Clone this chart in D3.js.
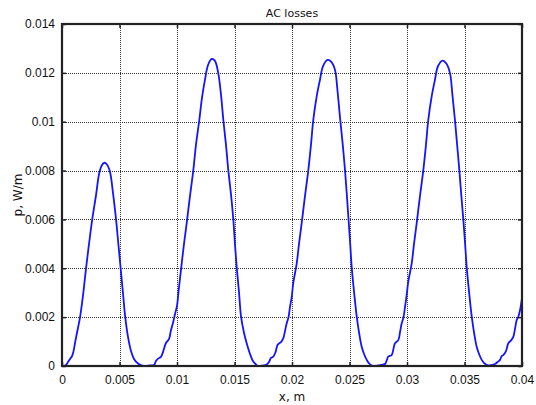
<!DOCTYPE html>
<meta charset="utf-8">
<script src="https://d3js.org/d3.v7.min.js"></script>
<style>
  body { margin: 0; background: #fff; font-family: 'DejaVu Sans', sans-serif; }
  .grid line { stroke: #333; stroke-dasharray: 1,1; shape-rendering: crispEdges; }
  .tick text { font-size: 12px; fill: #111; }
</style>
<body>
<svg width="536" height="405"></svg>
</body>
<script>

// x positions (m) and losses (W/m)
var xVals = [
  0, 0.00017, 0.00035, 0.00052, 0.0007, 0.00087, 0.001, 0.00113, 0.0013, 0.00157,
  0.00183, 0.00209, 0.00235, 0.00263, 0.00296, 0.00324, 0.00348, 0.00368, 0.00391, 0.00417,
  0.00443, 0.0047, 0.00491, 0.0051, 0.0053, 0.0055, 0.00574, 0.006, 0.00626, 0.00661,
  0.00696, 0.00722,
  0.00765, 0.008, 0.00817, 0.00835, 0.0086, 0.00878, 0.00904, 0.0093, 0.00948, 0.00965,
  0.00983, 0.01, 0.01013, 0.01041, 0.01061, 0.01084, 0.01113, 0.01142, 0.01165, 0.01194,
  0.01217, 0.01243, 0.0127, 0.01302, 0.0133, 0.01359, 0.01383, 0.01403, 0.01426, 0.01446,
  0.0147, 0.0149, 0.01504, 0.01519, 0.01539, 0.01557, 0.01583, 0.01606, 0.01635, 0.01663,
  0.01687, 0.01707,
  0.01748, 0.0178, 0.018, 0.01817, 0.01837, 0.01857, 0.01874, 0.0189, 0.01908, 0.01924,
  0.0194, 0.01954, 0.0197, 0.01983, 0.01997, 0.02011, 0.02041, 0.02061, 0.02084, 0.02113,
  0.02142, 0.02165, 0.02185, 0.02215, 0.02243, 0.0227, 0.0231, 0.02342, 0.02374, 0.02396,
  0.02417, 0.0244, 0.02461, 0.02476, 0.0249, 0.02505, 0.02519, 0.02541, 0.02563, 0.02585,
  0.02606, 0.0263, 0.0265, 0.02672, 0.02705,
  0.02722, 0.02765, 0.02809, 0.02825, 0.02837, 0.02867, 0.02882, 0.02896, 0.02924, 0.0294,
  0.02954, 0.0297, 0.02983, 0.02997, 0.03011, 0.03041, 0.03061, 0.03084, 0.03113, 0.03142,
  0.03165, 0.03185, 0.03215, 0.03243, 0.0327, 0.0331, 0.03342, 0.03374, 0.03396, 0.03417,
  0.03436, 0.03455, 0.03472, 0.0349, 0.03505, 0.03519, 0.03541, 0.03563, 0.03585, 0.03606,
  0.0363, 0.0365, 0.03675, 0.03707, 0.03735, 0.03765, 0.03792, 0.03809, 0.03823, 0.03837,
  0.0386, 0.03881, 0.03905, 0.03925, 0.0394, 0.03954, 0.0397, 0.03983, 0.04
];

var pVals = [
  0, 0, 0.00004, 0.00016, 0.00029, 0.0004, 0.0006, 0.00094, 0.00135, 0.002,
  0.0029, 0.004, 0.005, 0.006, 0.007, 0.0079, 0.00823, 0.00832, 0.00825, 0.00795,
  0.0071, 0.006, 0.00495, 0.004, 0.003, 0.002, 0.00119, 0.00061, 0.00029, 0.0001,
  0.00002, 0,
  0.00002, 0.00004, 0.0002, 0.0003, 0.00037, 0.00057, 0.00094, 0.0011, 0.00147, 0.00176,
  0.00213, 0.00246, 0.00303, 0.0042, 0.005, 0.00584, 0.00696, 0.00802, 0.00905, 0.01007,
  0.01097, 0.01171, 0.01232, 0.01257, 0.01249, 0.01198, 0.01109, 0.01007, 0.00905, 0.00802,
  0.007, 0.00598, 0.005, 0.00406, 0.00303, 0.00202, 0.00135, 0.00093, 0.00049, 0.00018,
  0.00006, 0,
  0.00002, 0.00006, 0.00016, 0.00033, 0.00038, 0.00057, 0.00086, 0.00093, 0.001, 0.00113,
  0.00145, 0.00175, 0.002, 0.00243, 0.0028, 0.00339, 0.0042, 0.005, 0.00584, 0.00696,
  0.00802, 0.00905, 0.01007, 0.01105, 0.01171, 0.01228, 0.01253, 0.01245, 0.01212, 0.01125,
  0.0102, 0.00912, 0.00802, 0.00706, 0.00611, 0.00508, 0.00406, 0.00297, 0.00202, 0.00131,
  0.00079, 0.00045, 0.00025, 0.0001, 0,
  0, 0.00004, 0.00008, 0.00025, 0.00038, 0.00045, 0.0007, 0.00093, 0.00106, 0.0014,
  0.00175, 0.002, 0.00243, 0.0029, 0.00345, 0.0042, 0.005, 0.00584, 0.00696, 0.00802,
  0.00905, 0.01007, 0.01105, 0.01171, 0.01228, 0.0125, 0.01238, 0.01198, 0.01105, 0.01007,
  0.00905, 0.00802, 0.007, 0.00598, 0.00502, 0.00406, 0.00297, 0.00202, 0.00131, 0.00079,
  0.00045, 0.00025, 0.0001, 0.00002, 0.00004, 0.00008, 0.00018, 0.00025, 0.0004, 0.00045,
  0.0006, 0.00093, 0.00105, 0.0012, 0.00155, 0.00188, 0.00205, 0.00229, 0.00278
];

var xTicks = [0, 0.005, 0.01, 0.015, 0.02, 0.025, 0.03, 0.035, 0.04];
var xTickLabels = ["0", "0.005", "0.01", "0.015", "0.02", "0.025", "0.03", "0.035", "0.04"];
var yTicks = [0, 0.002, 0.004, 0.006, 0.008, 0.01, 0.012, 0.014];
var yTickLabels = ["0", "0.002", "0.004", "0.006", "0.008", "0.01", "0.012", "0.014"];

var svg = d3.select("svg"),
    margin = {top: 24, right: 14, bottom: 39, left: 62},
    width = +svg.attr("width") - margin.left - margin.right,
    height = +svg.attr("height") - margin.top - margin.bottom,
    g = svg.append("g").attr("transform", "translate(" + margin.left + "," + margin.top + ")");

var x = d3.scaleLinear().domain([0, 0.04]).range([0, width]);
var y = d3.scaleLinear().domain([0, 0.014]).range([height, 0]);

// dotted grid
var grid = g.append("g").attr("class", "grid");
grid.selectAll("line.vx")
  .data(xTicks.slice(1, -1))
  .enter().append("line")
    .attr("class", "vx")
    .attr("x1", function(d) { return Math.round(x(d)) + 0.5; })
    .attr("x2", function(d) { return Math.round(x(d)) + 0.5; })
    .attr("y1", 0)
    .attr("y2", height);

grid.selectAll("line.hy")
  .data(yTicks.slice(1, -1))
  .enter().append("line")
    .attr("class", "hy")
    .attr("x1", 0)
    .attr("x2", width)
    .attr("y1", function(d) { return Math.round(y(d)) + 0.5; })
    .attr("y2", function(d) { return Math.round(y(d)) + 0.5; });

// the curve
var pts = xVals.map(function(d, i) { return [d, pVals[i]]; });
g.append("path")
    .datum(pts)
    .attr("fill", "none")
    .attr("stroke", "#1414ff")
    .attr("stroke-width", 1.8)
    .attr("stroke-linejoin", "round")
    .attr("d", d3.line()
      .x(function(d) { return x(d[0]); })
      .y(function(d) { return y(Math.max(0, d[1])); })
      .curve(d3.curveCatmullRom.alpha(0.5)));

// axes with inward ticks
var xAxis = d3.axisBottom(x).tickValues(xTicks)
    .tickFormat(function(d, i) { return xTickLabels[i]; })
    .tickSizeInner(-4).tickSizeOuter(0).tickPadding(9);
var yAxis = d3.axisLeft(y).tickValues(yTicks)
    .tickFormat(function(d, i) { return yTickLabels[i]; })
    .tickSizeInner(-4).tickSizeOuter(0).tickPadding(7);

g.append("g")
    .attr("transform", "translate(0," + height + ")")
    .call(xAxis);
g.append("g")
    .call(yAxis);
g.append("g")
    .call(d3.axisTop(x).tickValues(xTicks).tickFormat("").tickSizeInner(-4).tickSizeOuter(0));
g.append("g")
    .attr("transform", "translate(" + width + ",0)")
    .call(d3.axisRight(y).tickValues(yTicks).tickFormat("").tickSizeInner(-4).tickSizeOuter(0));

g.selectAll(".domain").remove();
g.selectAll(".tick line").attr("stroke", "#222").attr("stroke-width", 1.5);

// frame
g.append("rect")
    .attr("width", width)
    .attr("height", height)
    .attr("fill", "none")
    .attr("stroke", "#222")
    .attr("stroke-width", 2.2);

// titles
svg.append("text")
    .attr("x", margin.left + width / 2)
    .attr("y", 17)
    .attr("text-anchor", "middle")
    .attr("font-size", 11)
    .attr("fill", "#111")
    .text("AC losses");

svg.append("text")
    .attr("x", margin.left + width / 2)
    .attr("y", 401)
    .attr("text-anchor", "middle")
    .attr("font-size", 12)
    .attr("fill", "#111")
    .text("x, m");

svg.append("text")
    .attr("transform", "translate(22," + (margin.top + height / 2) + ") rotate(-90)")
    .attr("text-anchor", "middle")
    .attr("font-size", 12)
    .attr("fill", "#111")
    .text("p, W/m");

</script>
